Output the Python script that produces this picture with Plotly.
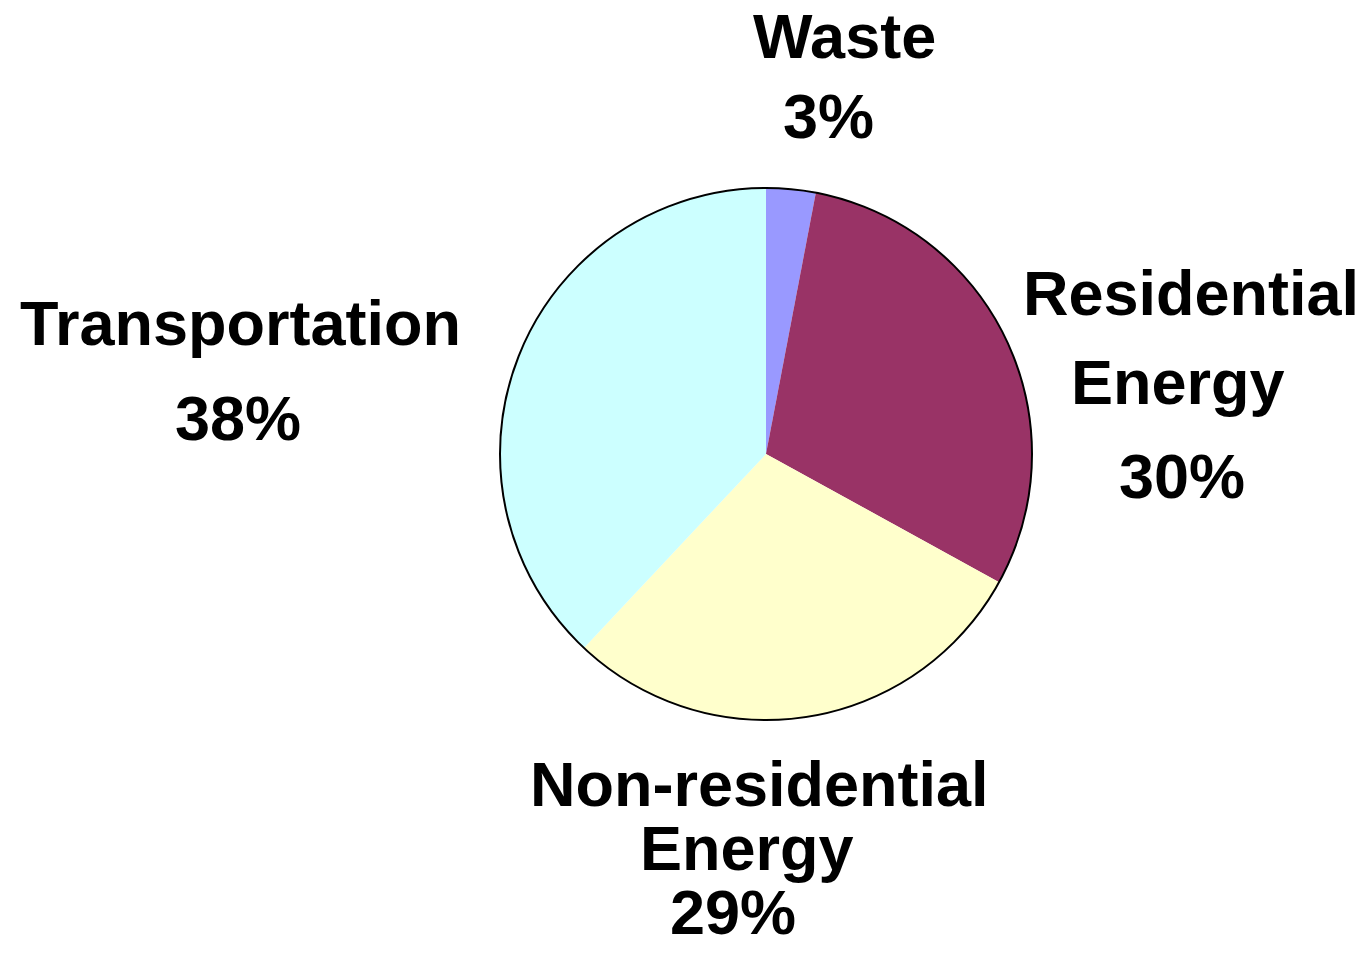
import plotly.graph_objects as go

# ---- data ----
categories = ["Waste", "Residential Energy", "Non-residential Energy", "Transportation"]
values = [3, 30, 29, 38]
label_lines = [["Waste"], ["Residential", "Energy"], ["Non-residential", "Energy"], ["Transportation"]]
colors = ["#9999FF", "#993366", "#FFFFCC", "#CCFFFF"]

# ---- layout constants (pixels) ----
W, H = 1367, 956
CX, CY, R = 766, 454, 266
FONT = 63
# per-label line anchors: (center x, cap-center y) for each text line incl. percentage
label_pos = [
    [(844, 36), (828, 116)],
    [(1191, 293), (1178, 382), (1182, 476)],
    [(759, 784), (747, 848), (733, 912)],
    [(240, 323), (238, 418)],
]

fig = go.Figure()
fig.add_trace(go.Pie(
    labels=categories,
    values=values,
    sort=False,
    direction="clockwise",
    rotation=0,
    textinfo="none",
    hoverinfo="label+percent",
    marker=dict(colors=colors, line=dict(color=colors, width=0)),
    domain=dict(x=[(CX - R) / W, (CX + R) / W], y=[1 - (CY + R) / H, 1 - (CY - R) / H]),
    showlegend=False,
))

# outer outline of the pie
fig.add_shape(type="circle", xref="paper", yref="paper",
              x0=(CX - R) / W, x1=(CX + R) / W,
              y0=1 - (CY + R) / H, y1=1 - (CY - R) / H,
              line=dict(color="black", width=2), fillcolor="rgba(0,0,0,0)")

for lines, v, pos in zip(label_lines, values, label_pos):
    texts = lines + [f"{v}%"]
    for t, (px, py) in zip(texts, pos):
        fig.add_annotation(text=f"<b>{t}</b>", xref="paper", yref="paper",
                           x=px / W, y=1 - py / H, xanchor="center", yanchor="middle",
                           showarrow=False,
                           font=dict(family="Liberation Sans, Arial, sans-serif", size=FONT, color="black"))

fig.update_layout(width=W, height=H, margin=dict(l=0, r=0, t=0, b=0),
                  paper_bgcolor="white", plot_bgcolor="white")

fig.write_html("out.html")
